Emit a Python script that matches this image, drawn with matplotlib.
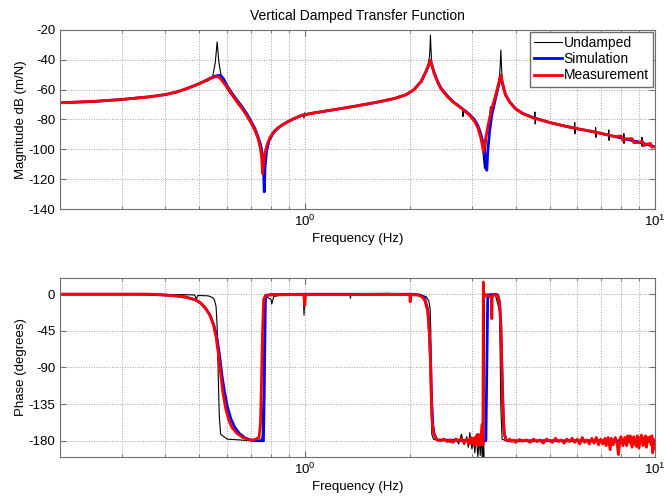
import matplotlib
matplotlib.use('Agg')
import matplotlib.pyplot as plt
from matplotlib.ticker import LogLocator, NullFormatter, FixedLocator

# --- magnitude, dB (m/N) ---
und_mag_f = [0.2, 0.25, 0.3, 0.36, 0.4, 0.43, 0.46, 0.49, 0.51, 0.53, 0.545, 0.555, 0.562, 0.568,
             0.575, 0.59, 0.6, 0.62, 0.64, 0.66, 0.68, 0.70, 0.72, 0.735, 0.748, 0.76, 0.766, 0.78,
             0.795, 0.82, 0.86, 0.92, 0.99, 0.995, 1.0, 1.005, 1.05, 1.2, 1.4, 1.6, 1.8, 1.95, 2.05,
             2.15, 2.22, 2.25, 2.27, 2.278, 2.285, 2.292, 2.305, 2.34, 2.4, 2.45, 2.55, 2.65, 2.82,
             2.83, 2.84, 2.95, 3.05, 3.12, 3.18, 3.22, 3.26, 3.28, 3.31, 3.36, 3.39, 3.40, 3.42,
             3.5, 3.57, 3.6, 3.615, 3.63, 3.645, 3.67, 3.74, 3.85, 4.0, 4.2, 4.53, 4.54, 4.55,
             4.56, 5.0, 5.5, 5.89, 5.9, 5.91, 5.92, 6.5, 6.76, 6.77, 6.78, 6.79, 7.37, 7.38, 7.39,
             7.40, 8.14, 8.15, 8.16, 8.17, 9.17, 9.18, 9.19, 9.2, 10.0]
und_mag = [-68.8, -67.9, -66.6, -64.8, -63.3, -61.7, -59.5, -57.0, -55.3, -54, -52, -42, -28, -41,
           -49, -56.3, -59.5, -64.3, -68.8, -73, -77.5, -82.5, -88, -93.5, -101, -114, -104.5,
           -97.5, -92.3, -87.8, -84, -80.2, -77, -79, -75.5, -77, -75.9, -73.7, -71.1, -68.6, -66.1,
           -63.4, -60.1, -54.7, -48, -43, -38, -32, -23.4, -32, -43, -49.5, -55.8, -59.8, -64.8,
           -68.5, -73, -78, -73.2, -77.3, -81.3, -86, -92.5, -100, -112.8, -101, -89, -81, -71.5,
           -78.5, -73, -65, -57, -50, -44, -33.4, -44, -57.5, -64, -68.8, -73.2, -76.4, -79.2, -75,
           -83, -79.4, -82.2, -84.5, -85.9, -82, -89.5, -86.2, -87.9, -88.5, -85.5, -92, -88.8,
           -90.6, -87, -94, -90.8, -92.6, -89.5, -96, -92.8, -95, -92, -98, -95.3, -98.3]

sim_mag_f = [0.2, 0.25, 0.3, 0.36, 0.4, 0.43, 0.46, 0.49, 0.51, 0.53, 0.55, 0.565, 0.575, 0.585,
             0.6, 0.62, 0.64, 0.66, 0.68, 0.70, 0.72, 0.735, 0.748, 0.756, 0.762, 0.766, 0.77,
             0.778, 0.79, 0.81, 0.84, 0.88, 0.92, 0.98, 1.05, 1.2, 1.4, 1.6, 1.8, 1.95, 2.05, 2.15,
             2.22, 2.26, 2.285, 2.31, 2.34, 2.4, 2.45, 2.55, 2.65, 2.8, 2.95, 3.05, 3.12, 3.18,
             3.23, 3.27, 3.3, 3.31, 3.33, 3.37, 3.42, 3.5, 3.57, 3.63, 3.68, 3.74, 3.85, 4.0, 4.2,
             4.5, 5.0, 5.5, 6.0, 6.5, 7.0, 7.7, 8.5, 9.2, 10.0]
sim_mag = [-68.8, -67.9, -66.6, -64.8, -63.3, -61.6, -59.3, -56.8, -55.0, -53.0, -51.2, -50.5,
           -50.6, -52.5, -57.5, -62.5, -67, -71, -75.5, -80.5, -86, -91.5, -97, -103, -112, -128.5,
           -112, -101, -94.5, -89.5, -85.5, -82.3, -80, -77.2, -75.8, -73.6, -71, -68.5, -66,
           -63.3, -60, -54.5, -47.8, -43.5, -41, -44, -48.5, -55, -59, -64, -68, -72.2, -76.5,
           -80, -84, -89.5, -96, -104, -112, -114, -102, -88, -77, -66.5, -58, -51, -57, -63.2,
           -68.3, -72.8, -76, -78.8, -82, -84.3, -86.2, -87.7, -89.3, -91.5, -93.8, -95.8, -98.3]

meas_mag_f = [0.2, 0.25, 0.3, 0.36, 0.4, 0.43, 0.46, 0.49, 0.51, 0.53, 0.545, 0.56, 0.57, 0.58,
              0.6, 0.62, 0.64, 0.66, 0.68, 0.70, 0.72, 0.735, 0.745, 0.752, 0.758, 0.762, 0.768,
              0.78, 0.795, 0.82, 0.86, 0.92, 0.98, 1.05, 1.2, 1.4, 1.6, 1.8, 1.95, 2.05, 2.15, 2.22,
              2.26, 2.285, 2.31, 2.34, 2.4, 2.45, 2.55, 2.65, 2.8, 2.95, 3.05, 3.12, 3.18, 3.22,
              3.24, 3.27, 3.31, 3.36, 3.42, 3.5, 3.57, 3.63, 3.68, 3.74, 3.85, 4.0, 4.2, 4.5, 5.0,
              5.5, 6.0, 6.5, 7.0, 7.4, 7.7, 8.0, 8.1, 8.3, 8.6, 8.7, 9.0, 9.2, 9.3, 9.5, 9.7, 9.8,
              10.0]
meas_mag = [-68.8, -67.9, -66.6, -64.8, -63.3, -61.6, -59.3, -56.8, -55.0, -53.2, -52.0, -51.2,
            -51.8, -53.8, -58.5, -63.5, -68, -72, -76.5, -81.5, -87, -92.5, -98, -104, -116.2,
            -110, -103.5, -97, -92, -87.5, -83.8, -80, -77.2, -75.8, -73.6, -71, -68.5, -66, -63.3,
            -60, -54.5, -47.5, -43, -40.2, -44, -49, -55.5, -59.5, -64.5, -68.3, -72.5, -77, -81,
            -85.5, -92, -98.5, -101.7, -95, -88.5, -80.5, -72.5, -64.5, -56.5, -50.2, -57, -63.5,
            -68.5, -73, -76.2, -79, -82, -84.3, -86.2, -87.7, -89.3, -90.5, -91.6, -91.0, -94,
            -93, -92.8, -95.5, -95.5, -94.5, -97.5, -96.5, -96, -98.5, -98.3]

# --- phase, degrees ---
und_ph_f = [0.2, 0.45, 0.485, 0.49, 0.495, 0.53, 0.545, 0.552, 0.558, 0.562, 0.566, 0.57, 0.575,
            0.6, 0.65, 0.7, 0.72, 0.745, 0.755, 0.762, 0.768, 0.78, 0.8, 0.805, 0.815, 0.85, 0.99,
            0.995, 1.0, 1.005, 1.1, 1.345, 1.35, 1.355, 1.71, 1.72, 1.73, 2.0, 2.15, 2.22, 2.26,
            2.28, 2.29, 2.295, 2.305, 2.33, 2.4, 2.5, 2.6, 2.7, 2.75, 2.8, 2.85, 2.9, 2.93, 2.96,
            3.0, 3.03, 3.06, 3.09, 3.12, 3.15, 3.17, 3.19, 3.21, 3.23, 3.245, 3.26, 3.3, 3.5, 3.6,
            3.63, 3.66, 3.75, 10.0]
und_ph = [0, -0.5, -1, -6, -1.5, -2, -4, -7, -15, -40, -100, -150, -172, -178, -179, -180, -181,
          -180, -176, -120, -8, -4, -6, -12, -3, -1, -1, -25.7, -3, -1, -1, -1, -5, -1, -0.5, 1.5,
          -0.5, -0.5, -1, -3, -8, -18, -45, -100, -172, -178, -180, -178, -182, -177, -184, -172,
          -185, -175, -188, -170, -190, -178, -195, -172, -200, -176, -198, -168, -202, -175,
          -205, 0, 0, -1, -20, -140, -178, -180, -180]

sim_ph_f = [0.2, 0.35, 0.4, 0.43, 0.457, 0.488, 0.505, 0.52, 0.535, 0.55, 0.562, 0.572, 0.58,
            0.59, 0.6, 0.615, 0.63, 0.65, 0.675, 0.7, 0.72, 0.762, 0.766, 0.772, 0.8, 1.0, 2.0,
            2.1, 2.15, 2.2, 2.245, 2.27, 2.29, 2.3, 2.32, 2.34, 2.37, 2.4, 3.0, 3.29, 3.31, 3.33,
            3.5, 3.56, 3.6, 3.63, 3.65, 3.67, 3.69, 3.71, 3.75, 3.78, 10.0]
sim_ph = [0, 0, -1, -2, -3.5, -7, -11, -17, -25, -38, -55, -78, -100, -120, -137, -153, -163,
          -171, -176.5, -179, -180, -180, -120, -2, -0.5, 0, 0, -0.5, -1.5, -5, -19, -48, -90,
          -125, -160, -171, -177, -179, -180, -180, -90, -1, 0, -1, -10, -38, -82, -120, -152,
          -170, -178, -180, -180]

meas_ph_f = [0.2, 0.367, 0.4, 0.43, 0.457, 0.488, 0.505, 0.52, 0.535, 0.548, 0.558, 0.566, 0.574,
             0.583, 0.594, 0.607, 0.62, 0.64, 0.665, 0.69, 0.707, 0.725, 0.74, 0.747, 0.752,
             0.757, 0.763, 0.775,
             0.9, 0.995, 1.0, 1.005, 1.3, 1.7, 1.995, 2.0, 2.005, 2.1, 2.15, 2.2, 2.245, 2.27,
             2.285, 2.295, 2.305, 2.32, 2.34, 2.37, 2.4,
             2.45, 2.5, 2.55, 2.6, 2.65, 2.7, 2.75, 2.8, 2.85, 2.9, 2.95, 2.98, 3.0, 3.03, 3.05,
             3.08, 3.1, 3.13, 3.16, 3.19, 3.21, 3.225, 3.235, 3.245, 3.26, 3.3, 3.35, 3.41, 3.42,
             3.43, 3.47, 3.52, 3.55,
             3.6, 3.63, 3.65, 3.67, 3.69, 3.71, 3.75, 3.78,
             3.85, 3.9, 3.95, 4.0,
             4.1, 4.2, 4.3, 4.4, 4.5, 4.6, 4.7, 4.8, 4.9, 5.0,
             5.1, 5.2, 5.3, 5.4, 5.5, 5.6, 5.7, 5.8, 5.9, 6.0,
             6.1, 6.2, 6.3, 6.4, 6.5, 6.6, 6.7, 6.8, 6.9, 7.0, 7.1,
             7.2, 7.25, 7.35, 7.45, 7.5, 7.6, 7.7, 7.8, 7.86, 7.95,
             8.0, 8.1, 8.2, 8.3, 8.35, 8.45, 8.5, 8.6, 8.7, 8.75, 8.85, 8.9,
             9.0, 9.1, 9.15, 9.25, 9.3, 9.4, 9.45, 9.55, 9.6, 9.7, 9.75, 9.8, 9.85, 9.9, 9.95,
             10.0]
meas_ph = [0, 0, -1, -2, -3.5, -7, -11, -17, -25, -37, -53, -72, -95, -120, -140, -155, -164,
           -171, -176, -178.5, -179.5, -178, -176, -160, -110, -50, -6, -1,
           -0.5, -0.5, -13.6, -0.5, -0.5, 0, -0.5, -9.4, -0.5, -1, -2.5, -7, -21, -50, -82, -120,
           -150, -165, -172, -177, -179.5,
           -180, -178, -181, -179, -182, -178, -180, -177, -183, -178, -184, -176, -183, -177,
           -186, -175, -184, -172, -186, -172, -160, -185, 15, -5, 0, -1, -2, -4, -30, -3, 0, -2,
           -1,
           -12, -41, -85, -123, -155, -172, -178, -180,
           -178, -181, -179, -182,
           -178.5, -180.5, -179, -182, -178, -181, -179, -183, -178, -180,
           -182, -177, -181, -179, -183, -178, -181, -177, -182, -178,
           -184, -176, -182, -179, -184, -177, -183, -176, -185, -178, -184,
           -177, -186, -176, -191, -177, -185, -176, -184, -197, -178,
           -175, -186, -176, -186, -174, -182, -174, -188, -175, -183, -187, -174,
           -189, -176, -173, -186, -177, -174, -188, -176, -181, -175, -185, -174, -195, -178,
           -186, -190]

plt.rcParams.update({
    'font.family': ['Liberation Sans', 'DejaVu Sans'],
    'font.size': 9,
    'axes.unicode_minus': False,
    'axes.edgecolor': '#6e6e6e',
    'axes.linewidth': 0.8,
    'xtick.color': '#6e6e6e',
    'ytick.color': '#6e6e6e',
    'xtick.labelcolor': 'black',
    'ytick.labelcolor': 'black',
})

fig = plt.figure(figsize=(6.64, 4.96), dpi=100)
ax1 = fig.add_axes([0.0904, 0.5786, 0.896, 0.361])
ax2 = fig.add_axes([0.0904, 0.0786, 0.896, 0.361])

ax1.plot(und_mag_f, und_mag, color='black', lw=0.8, label='Undamped')
ax1.plot(sim_mag_f, sim_mag, color='#0000ff', lw=2.0, label='Simulation')
ax1.plot(meas_mag_f, meas_mag, color='#ff0000', lw=2.0, label='Measurement')

ax2.plot(und_ph_f, und_ph, color='black', lw=0.8)
ax2.plot(sim_ph_f, sim_ph, color='#0000ff', lw=2.0)
ax2.plot(meas_ph_f, meas_ph, color='#ff0000', lw=2.0)

for ax in (ax1, ax2):
    ax.set_xscale('log')
    ax.set_xlim(0.2, 10)
    ax.xaxis.set_major_locator(FixedLocator([1, 10]))
    ax.xaxis.set_minor_locator(LogLocator(base=10, subs=range(2, 10)))
    ax.xaxis.set_minor_formatter(NullFormatter())
    ax.grid(True, which='both', axis='x', ls=':', color='#a0a0a0', lw=0.7)
    ax.grid(True, which='major', axis='y', ls=':', color='#a0a0a0', lw=0.7)
    ax.tick_params(which='both', direction='in', top=True, right=True)
    ax.tick_params(which='major', length=4, labelsize=9.5)
    ax.tick_params(which='minor', length=2.5)
    ax.set_xlabel('Frequency (Hz)', fontsize=9.5, labelpad=3)

ax1.set_ylim(-140, -20)
ax1.set_yticks(range(-140, -19, 20))
ax1.set_ylabel('Magnitude dB (m/N)', fontsize=9.5, labelpad=1)
ax1.set_title('Vertical Damped Transfer Function', fontsize=10, pad=7)
ax1.legend(loc='upper right', fancybox=False, edgecolor='#6e6e6e', framealpha=1,
           borderaxespad=0.15, handlelength=2.0, handletextpad=0.1, borderpad=0.3,
           labelspacing=0.15, fontsize=10)

ax2.set_ylim(-200, 20)
ax2.set_yticks([0, -45, -90, -135, -180])
ax2.set_ylabel('Phase (degrees)', fontsize=9.5, labelpad=1)

fig.savefig('out.png', dpi=100)
